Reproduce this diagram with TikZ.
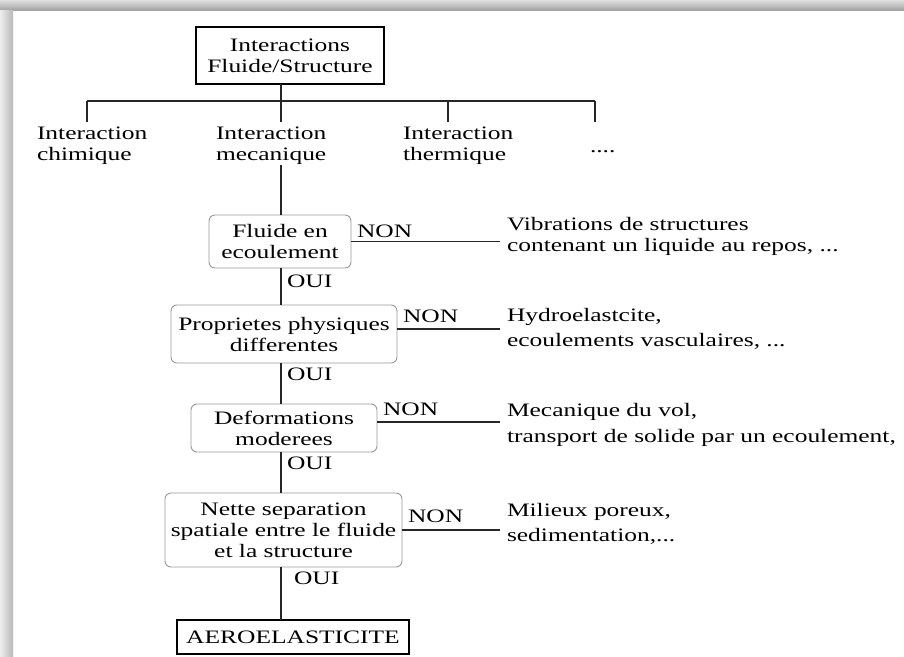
\documentclass[tikz,border=0pt]{standalone}
\usepackage{fontspec}
\setmainfont{Liberation Serif}[FakeStretch=1.34]
\usepackage{tikz}

\begin{document}
\begin{tikzpicture}[x=1pt, y=-1pt,
  every node/.style={inner sep=0pt, outer sep=0pt, font=\fontsize{19}{21}\selectfont},
  hardbox/.style={draw=black, line width=1.3pt, align=center},
  softbox/.style={draw=black!40, line width=0.9pt, rounded corners=6pt, align=center},
  lbl/.style={anchor=north west, align=left},
  link/.style={line width=1.1pt, color=black!85}]
\useasboundingbox (0,0) rectangle (904,656);
\fill[white] (0,0) rectangle (904,656);
\shade[top color=black!12, bottom color=black!36] (0,0) rectangle (904,10);
\shade[left color=black!7, right color=black!28] (0,10) rectangle (13,656);

\node[hardbox, minimum width=188pt, minimum height=57pt] (top) at (290,55.5) {Interactions\\Fluide/Structure};

\node[lbl] (chim) at (37,127) {Interaction\\chimique};
\node[lbl] (meca) at (216,127) {Interaction\\mecanique};
\node[lbl] (therm) at (403,127) {Interaction\\thermique};
\node[lbl] (dots) at (590,151) {....};

\node[softbox, minimum width=142pt, minimum height=53pt] (fluide) at (280,241.5) {Fluide en\\ecoulement};
\node[softbox, minimum width=226pt, minimum height=58pt] (prop) at (284,334) {Proprietes physiques\\differentes};
\node[softbox, minimum width=186pt, minimum height=48pt] (deform) at (284,428) {Deformations\\moderees};
\node[softbox, minimum width=237pt, minimum height=74pt] (nette) at (283.5,530) {Nette separation\\spatiale entre le fluide\\et la structure};
\node[hardbox, minimum width=232pt, minimum height=34pt] (aero) at (293,637) {AEROELASTICITE};

\node[lbl] (non1) at (357,225) {NON};
\node[lbl] (non2) at (403,310) {NON};
\node[lbl] (non3) at (383,403) {NON};
\node[lbl] (non4) at (408,510) {NON};
\node[lbl] (oui1) at (287,275) {OUI};
\node[lbl] (oui2) at (287,368) {OUI};
\node[lbl] (oui3) at (287,457) {OUI};
\node[lbl] (oui4) at (294,572) {OUI};

\node[lbl] (res1) at (507,217) {Vibrations de structures\\contenant un liquide au repos, ...};
\node[lbl, font=\fontsize{19}{25}\selectfont] (res2) at (507,308) {Hydroelastcite,\\ecoulements vasculaires, ...};
\node[lbl, font=\fontsize{19}{26}\selectfont] (res3) at (507,403) {Mecanique du vol,\\transport de solide par un ecoulement,};
\node[lbl, font=\fontsize{19}{25}\selectfont] (res4) at (507,503) {Milieux poreux,\\sedimentation,...};

% tree
\coordinate (d1) at (87,101);
\coordinate (d2) at (281,101);
\coordinate (d3) at (448,101);
\coordinate (d4) at (595,101);
\coordinate (stop) at (500,0);
\draw[link] (d1) -- (d4);
\draw[link] (top.south -| d2) -- (d2);
\foreach \d in {d1,d2,d3,d4}
  \draw[link, shorten >=5pt] (\d) -- (\d |- chim.north);

% main chain
\draw[link] (meca.south -| d2) -- (fluide.north -| d2);
\draw[link] (fluide.south -| d2) -- (prop.north -| d2);
\draw[link] (prop.south -| d2) -- (deform.north -| d2);
\draw[link] (deform.south -| d2) -- (nette.north -| d2);
\draw[link] (nette.south -| d2) -- (aero.north -| d2);

% NON branches
\coordinate (e1) at (fluide.east);
\coordinate (e2) at ([yshift=5pt]prop.east);
\coordinate (e3) at ([yshift=6pt]deform.east);
\coordinate (e4) at (nette.east);
\foreach \e in {e1,e2,e3,e4}
  \draw[link] (\e) -- (\e -| stop);
\end{tikzpicture}
\end{document}
